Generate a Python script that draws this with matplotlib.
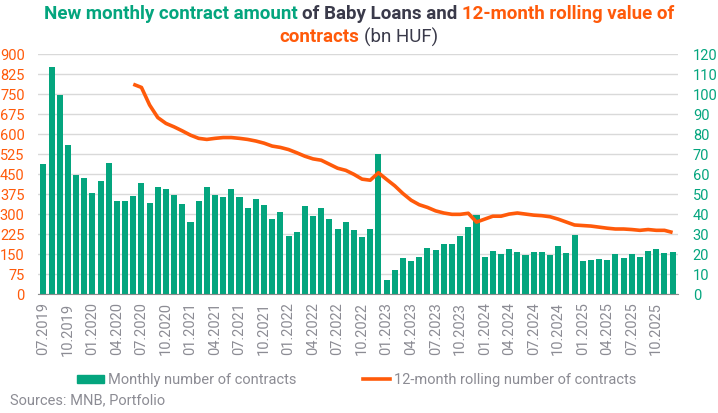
import numpy as np
import pandas as pd
import matplotlib.pyplot as plt
from matplotlib.patches import Patch
from matplotlib.lines import Line2D

plt.rcParams['font.family'] = ['Roboto', 'DejaVu Sans']

TEAL = '#04A57E'
ORANGE = '#FF5A0A'
GRAY = '#8C8C94'
DARK = '#3A3A4A'

# months 07.2019 .. 12.2025
months = [p.strftime('%m.%Y') for p in pd.period_range('2019-07', '2025-12', freq='M')]

# new monthly contract amount, bn HUF (right axis)
monthly = [65, 113.5, 99.5, 74.5, 59.5, 58, 50.5, 56.5, 65.5, 46.5, 46.5, 49,
           55.5, 45.5, 53.5, 52.5, 49.5, 45, 36, 46.5, 53.5, 49.5, 48.5, 52.5,
           48.5, 43, 47.5, 44.7, 37.5, 41, 29, 31, 44.2, 39, 43, 37.5,
           32.5, 36, 32, 28.5, 32.5, 70, 7, 12, 18, 16.5, 18.5, 23,
           22, 25, 25, 29, 33.5, 39.5, 18.5, 21.5, 20, 22.5, 21, 19.5,
           21, 21, 19.5, 24, 20.5, 29.5, 16.5, 17, 17.5, 17, 20, 18,
           20, 18.5, 21.5, 22.5, 20.5, 21]

# 12-month rolling value, bn HUF (left axis), from 06.2020
rolling_start = '06.2020'
rolling = [787, 775, 709, 662, 640, 627, 612, 596, 584, 580, 584, 587, 587,
           584, 580, 574, 566, 555, 550, 542, 530, 517, 507, 502, 487,
           472, 464, 449, 431, 427, 455, 430, 406, 377, 352, 335, 325,
           312, 304, 299, 299, 303, 270, 281, 292, 292, 300, 304, 300,
           296, 294, 290, 281, 270, 259, 257, 255, 251, 247, 244, 244,
           242, 239, 242, 239, 239, 231]

tick_labels = ['07.2019', '10.2019', '01.2020', '04.2020', '07.2020', '10.2020',
               '01.2021', '04.2021', '07.2021', '10.2021', '01.2022', '04.2022',
               '07.2022', '10.2022', '01.2023', '04.2023', '07.2023', '10.2023',
               '01.2024', '04.2024', '07.2024', '10.2024', '01.2025', '04.2025',
               '07.2025', '10.2025']

x = np.arange(len(months))
x_roll = np.arange(months.index(rolling_start), months.index(rolling_start) + len(rolling))

fig = plt.figure(figsize=(7.18, 4.13), dpi=100)
ax = fig.add_axes([0.0536, 0.288, 0.89, 0.581])
ax2 = ax.twinx()

# bars on right axis, line on left axis drawn on top
ax2.bar(x, monthly, width=0.74, color=TEAL, zorder=2)
ax.plot(x_roll, rolling, color=ORANGE, lw=2.6, solid_capstyle='butt', zorder=3)
ax.set_zorder(ax2.get_zorder() + 1)
ax.patch.set_visible(False)

ax.set_xlim(-0.6, len(months) - 0.4)
ax.set_ylim(0, 900)
ax2.set_ylim(0, 120)
ax.set_yticks(np.arange(0, 901, 75))
ax2.set_yticks(np.arange(0, 121, 10))
ax2.grid(axis='y', color='#D9D9D9', lw=1)
ax2.set_axisbelow(True)

ax.set_xticks([months.index(t) for t in tick_labels])
ax.set_xticklabels(tick_labels, rotation=90, color=GRAY, fontsize=10.5)
ax.tick_params(axis='x', length=0, pad=6)
ax.tick_params(axis='y', length=0, pad=10, labelcolor=ORANGE, labelsize=10.5)
ax2.tick_params(axis='y', length=0, pad=11, labelcolor=TEAL, labelsize=10.5)

for a in (ax, ax2):
    for s in ('top', 'left', 'right', 'bottom'):
        a.spines[s].set_visible(False)
ax.spines['bottom'].set_visible(True)
ax.spines['bottom'].set_color('#8C8C8C')

# title in coloured pieces
def title_line(pieces, y, size=13.5):
    fig.canvas.draw()
    r = fig.canvas.get_renderer()
    texts = []
    for s, c, w in pieces:
        texts.append(fig.text(0, y, s, color=c, fontweight=w, fontsize=size,
                              va='center', ha='left'))
    widths = [t.get_window_extent(r).width for t in texts]
    gap = size * 100 / 72 * 0.25
    total = sum(widths) + gap * (len(widths) - 1)
    xp = (fig.bbox.width - total) / 2
    for t, wd in zip(texts, widths):
        t.set_x(xp / fig.bbox.width)
        xp += wd + gap

title_line([('New monthly contract amount', TEAL, 'bold'),
            ('of Baby Loans and', DARK, 'bold'),
            ('12-month rolling value of', ORANGE, 'bold')], 1 - 14 / 413)
title_line([('contracts', ORANGE, 'bold'),
            ('(bn HUF)', DARK, 'normal')], 1 - 37 / 413)

handles = [Patch(color=TEAL), Line2D([], [], color=ORANGE, lw=2.6)]
fig.legend(handles, ['Monthly number of contracts', '12-month rolling number of contracts'],
           loc='center', bbox_to_anchor=(0.497, 1 - 380 / 413), ncol=2, frameon=False,
           columnspacing=4.6, handlelength=1.8, handleheight=0.5, handletextpad=0.3,
           labelcolor=GRAY, fontsize=10.5)

fig.text(10 / 718, 1 - 400 / 413, 'Sources: MNB, Portfolio', color=GRAY, fontsize=10.5,
         va='center', ha='left')

fig.savefig('out.png', dpi=100)
